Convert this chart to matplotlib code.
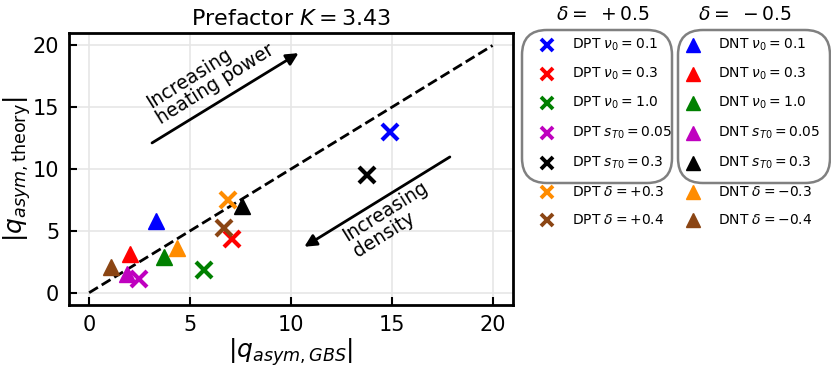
import matplotlib
matplotlib.use("Agg")
import matplotlib.pyplot as plt
from matplotlib.lines import Line2D
from matplotlib.patches import FancyBboxPatch

# DPT (delta = +0.5 family) -> crosses, DNT (delta = -0.5 family) -> triangles
colors = ["blue", "red", "green", "m", "black", "darkorange", "saddlebrown"]
dpt_labels = [r"DPT $\nu_0=0.1$", r"DPT $\nu_0=0.3$", r"DPT $\nu_0=1.0$",
              r"DPT $s_{T0}=0.05$", r"DPT $s_{T0}=0.3$",
              r"DPT $\delta=+0.3$", r"DPT $\delta=+0.4$"]
dnt_labels = [r"DNT $\nu_0=0.1$", r"DNT $\nu_0=0.3$", r"DNT $\nu_0=1.0$",
              r"DNT $s_{T0}=0.05$", r"DNT $s_{T0}=0.3$",
              r"DNT $\delta=-0.3$", r"DNT $\delta=-0.4$"]
dpt_gbs = [14.9, 7.06, 5.67, 2.45, 13.8, 6.88, 6.67]
dpt_theory = [13.0, 4.35, 1.84, 1.1, 9.5, 7.5, 5.2]
dnt_gbs = [3.3, 2.03, 3.69, 1.9, 7.6, 4.37, 1.09]
dnt_theory = [5.8, 3.1, 2.85, 1.5, 7.05, 3.65, 2.1]
prefactor = 3.43

fig = plt.figure(figsize=(8.31, 3.68), dpi=100)
ax = fig.add_axes([0.083, 0.171, 0.534, 0.739])

ax.plot([0, 20], [0, 20], "k--", lw=2, zorder=2)
for i, c in enumerate(colors):
    ax.plot(dpt_gbs[i], dpt_theory[i], "x", color=c, ms=11, mew=3, zorder=3)
    ax.plot(dnt_gbs[i], dnt_theory[i], "^", color=c, ms=12, zorder=3)

# arrows + annotations
ax.annotate("", xy=(10.5, 19.5), xytext=(3, 12),
            arrowprops=dict(arrowstyle="-|>", color="k", lw=2, mutation_scale=18))
ax.annotate("", xy=(10.55, 3.6), xytext=(18, 11.1),
            arrowprops=dict(arrowstyle="-|>", color="k", lw=2, mutation_scale=18))
ax.text(6.0, 17.5, "Increasing\nheating power", rotation=32, fontsize=13.5,
        ha="center", va="center", multialignment="left", linespacing=1.0)
ax.text(14.95, 5.95, "Increasing\ndensity", rotation=32, fontsize=13.5,
        ha="center", va="center", multialignment="left", linespacing=1.0)

ax.set_xlim(-1, 21)
ax.set_ylim(-1, 21)
ax.set_xticks([0, 5, 10, 15, 20])
ax.set_yticks([0, 5, 10, 15, 20])
ax.grid(True, color="0.9", lw=1.2)
ax.set_axisbelow(True)
ax.tick_params(direction="in", length=6, width=1.5, labelsize=15, pad=7)
for s in ax.spines.values():
    s.set_linewidth(2)
ax.set_xlabel(r"$|q_{asym,GBS}|$", fontsize=18, labelpad=1)
ax.set_ylabel(r"$|q_{asym,\mathrm{theory}}|$", fontsize=18, labelpad=0)
ax.set_title(r"Prefactor $K = %.2f$" % prefactor, fontsize=16, pad=6)

# legends, built by hand as two columns
row_y = [45, 74, 103, 133, 163, 192, 220]
H = 368.0
W = 831.0
for col, (labels, mk, mx, tx) in enumerate([(dpt_labels, "x", 547, 572),
                                            (dnt_labels, "^", 693, 718)]):
    for i, lab in enumerate(labels):
        y = 1 - row_y[i] / H
        if mk == "x":
            fig.add_artist(Line2D([mx / W], [y], marker="x", color=colors[i],
                                  ms=9, mew=2.8, transform=fig.transFigure))
        else:
            fig.add_artist(Line2D([mx / W], [y], marker="^", color=colors[i],
                                  ms=10, transform=fig.transFigure))
        fig.text(tx / W, y, lab, fontsize=10, va="center", ha="left")

fig.text(603 / W, 1 - 15 / H, r"$\delta =\ +0.5$", fontsize=13.5, ha="center", va="center")
fig.text(745 / W, 1 - 15 / H, r"$\delta =\ -0.5$", fontsize=13.5, ha="center", va="center")
for x0, x1 in [(522, 672), (678, 830)]:
    box = FancyBboxPatch((x0 / W, 1 - 183 / H), (x1 - x0) / W, (183 - 30) / H,
                         boxstyle="round,pad=0,rounding_size=0.03",
                         transform=fig.transFigure, fc="none", ec="gray", lw=1.8,
                         mutation_aspect=W / H)
    fig.add_artist(box)

fig.savefig("out.png", dpi=100)
